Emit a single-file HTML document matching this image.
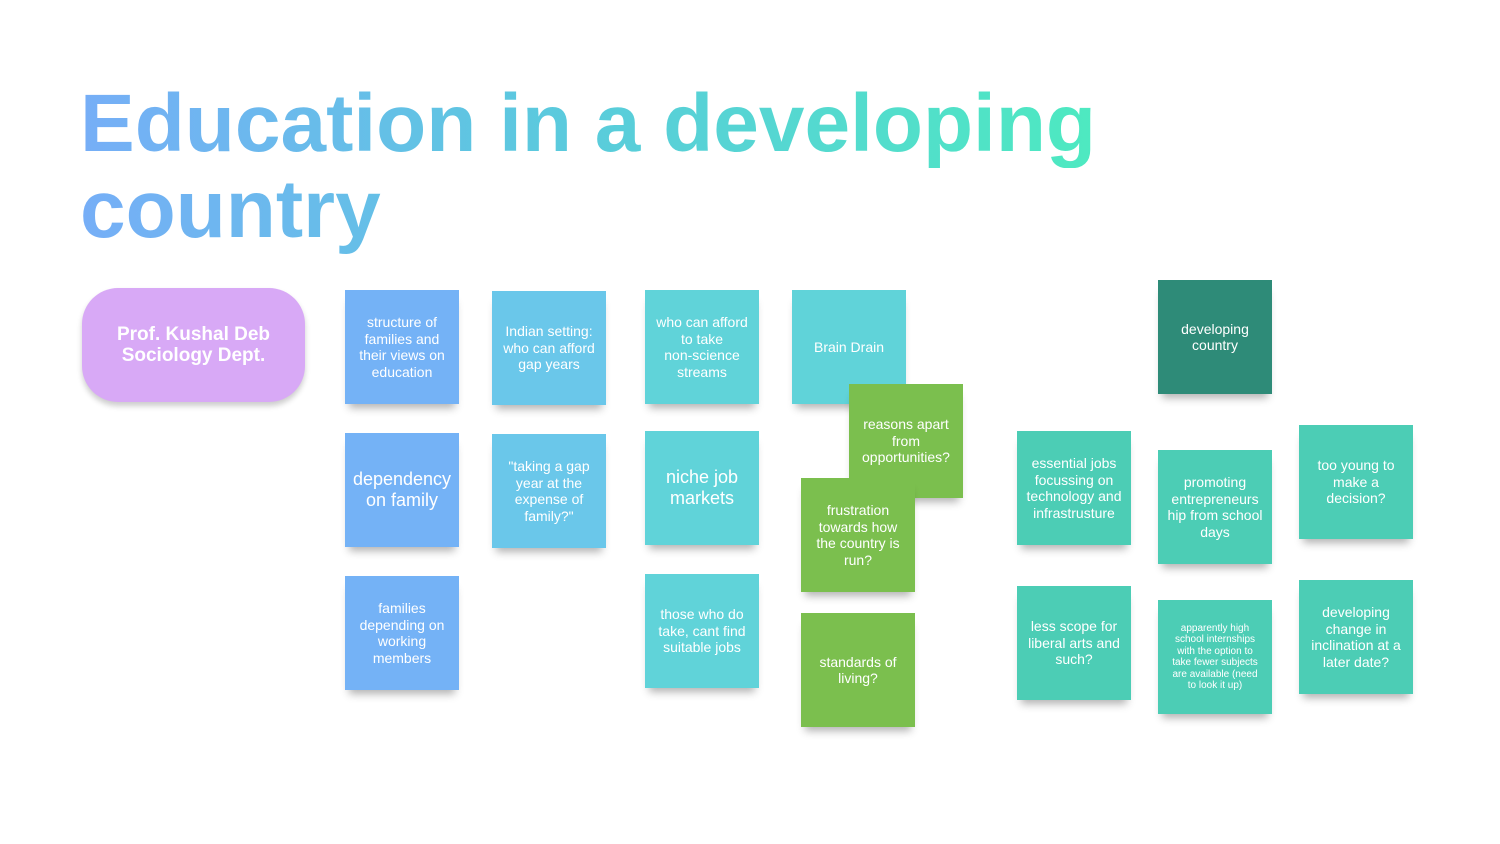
<!DOCTYPE html>
<html><head><style>
body{margin:0;width:1500px;height:844px;background:#fff;overflow:hidden;position:relative;font-family:"Liberation Sans",sans-serif}
.t{position:absolute;left:80px;font-weight:bold;font-size:82px;line-height:88px;white-space:nowrap;background:linear-gradient(90deg,#76aef7 0%,#5bc9de 45%,#4deac0 100%);background-size:1025px 100%;-webkit-background-clip:text;background-clip:text;color:transparent;width:1025px}
.pill{position:absolute;left:82px;top:288px;width:223px;height:114px;border-radius:36px;background:#d8a9f6;color:#fff;font-weight:bold;font-size:19px;line-height:21px;display:flex;align-items:center;justify-content:center;text-align:center;box-shadow:0 4px 6px rgba(0,0,0,.2)}
.s{position:absolute;width:114px;height:114px;color:#fff;font-size:14px;line-height:16.5px;display:flex;align-items:center;justify-content:center;text-align:center;padding:0 9px;box-sizing:border-box;box-shadow:0 8px 8px -4px rgba(0,0,0,.3)}
.b{background:#74b2f6}.lb{background:#6ac7ea}.c{background:#60d3d9}.g{background:#7bbf4e}.tl{background:#4ccdb5}.d{background:#2e8b78}
.big{font-size:18px;line-height:21px}
.sm{font-size:10px;line-height:11.5px;padding:0 12px}
</style></head><body>
<div class="t" style="top:80px">Education in a developing</div>
<div class="t" style="top:166px">country</div>
<div class="pill">Prof. Kushal Deb<br>Sociology Dept.</div>

<div class="s b" style="left:345px;top:290px">structure of families and their views on education</div>
<div class="s b big" style="left:345px;top:433px">dependency on family</div>
<div class="s b" style="left:345px;top:576px">families depending on working members</div>

<div class="s lb" style="left:492px;top:291px">Indian setting: who can afford gap years</div>
<div class="s lb" style="left:492px;top:434px">"taking a gap year at the expense of family?"</div>

<div class="s c" style="left:645px;top:290px">who can afford to take non&#8209;science streams</div>
<div class="s c big" style="left:645px;top:431px">niche job markets</div>
<div class="s c" style="left:645px;top:574px">those who do take, cant find suitable jobs</div>

<div class="s c" style="left:792px;top:290px">Brain Drain</div>
<div class="s g" style="left:849px;top:384px">reasons apart from opportunities?</div>
<div class="s g" style="left:801px;top:478px">frustration towards how the country is run?</div>
<div class="s g" style="left:801px;top:613px">standards of living?</div>

<div class="s d" style="left:1158px;top:280px">developing country</div>
<div class="s tl" style="left:1017px;top:431px">essential jobs focussing on technology and infrastrusture</div>
<div class="s tl" style="left:1017px;top:586px">less scope for liberal arts and such?</div>
<div class="s tl" style="left:1158px;top:450px">promoting entrepreneurs hip from school days</div>
<div class="s tl sm" style="left:1158px;top:600px">apparently high school internships with the option to take fewer subjects are available (need to look it up)</div>
<div class="s tl" style="left:1299px;top:425px">too young to make a decision?</div>
<div class="s tl" style="left:1299px;top:580px">developing change in inclination at a later date?</div>
</body></html>
